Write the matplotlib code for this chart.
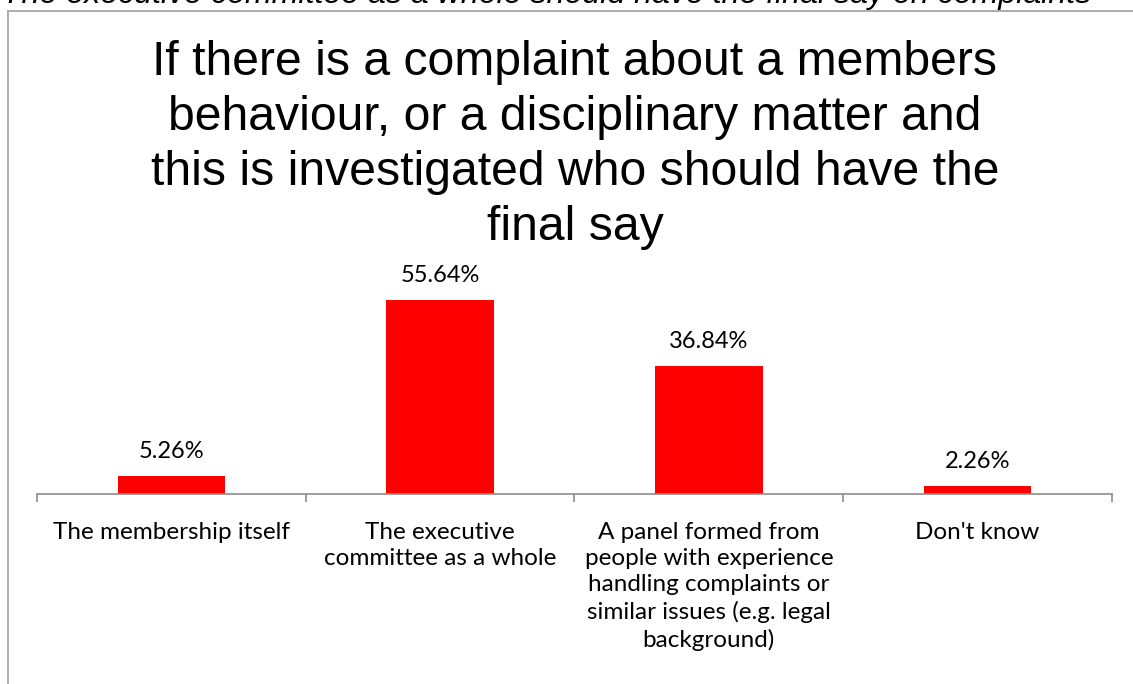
import matplotlib
matplotlib.use("Agg")
import matplotlib.pyplot as plt
from matplotlib.lines import Line2D

categories = [
    "The membership itself",
    "The executive\ncommittee as a whole",
    "A panel formed from\npeople with experience\nhandling complaints or\nsimilar issues (e.g. legal\nbackground)",
    "Don't know",
]
shares = [5.26, 55.64, 36.84, 2.26]
value_labels = ["5.26%", "55.64%", "36.84%", "2.26%"]

title = ("If there is a complaint about a members\nbehaviour, or a disciplinary matter and\n"
         "this is investigated who should have the\nfinal say")
heading = "The executive committee as a whole should have the final say on complaints"

W, H = 1133, 684
fig = plt.figure(figsize=(W / 100, H / 100), dpi=100)

# heading from the page above, clipped by the top edge
fig.text(2 / W, 1 - 3 / H, heading, fontsize=23.1, style="italic",
         family="Liberation Sans", ha="left", va="baseline", color="black")

# chart frame (left and top edges visible)
grey = "#a6a6a6"
fig.add_artist(Line2D([8 / W, 8 / W], [0, 1 - 11 / H], color=grey, lw=1.3))
fig.add_artist(Line2D([8 / W, 1], [1 - 11 / H, 1 - 11 / H], color=grey, lw=1.3))

fig.text(575 / W, 1 - 240 / H, title, fontsize=34.7, family="Liberation Sans",
         ha="center", va="baseline", linespacing=1.29, multialignment="center")

left, right = 37 / W, 1112 / W
bottom, top = 1 - 494 / H, 1 - 285 / H
ax = fig.add_axes([left, bottom, right - left, top - bottom])

x = range(len(categories))
bars = ax.bar(x, shares, width=0.4, color="#ff0000")
ax.set_xlim(-0.5, len(categories) - 0.5)
ax.set_ylim(0, 60)

for b, lab in zip(bars, value_labels):
    ax.annotate(lab, (b.get_x() + b.get_width() / 2, b.get_height()),
                xytext=(0, 13), textcoords="offset points", ha="center",
                va="baseline", fontsize=17, family="Lato")

for s in ["top", "right", "left"]:
    ax.spines[s].set_visible(False)
ax.spines["bottom"].set_color("#8c8c8c")
ax.spines["bottom"].set_linewidth(1.2)
ax.set_yticks([])

ax.set_xticks(list(x))
ax.set_xticklabels(categories, fontsize=17.5, family="Lato", linespacing=1.31)
ax.tick_params(axis="x", which="major", length=0, pad=20)
ax.set_xticks([i - 0.5 for i in range(len(categories) + 1)], minor=True)
ax.tick_params(axis="x", which="minor", length=6, width=1.2, color="#8c8c8c",
               direction="out")

fig.savefig("out.png", dpi=100)
